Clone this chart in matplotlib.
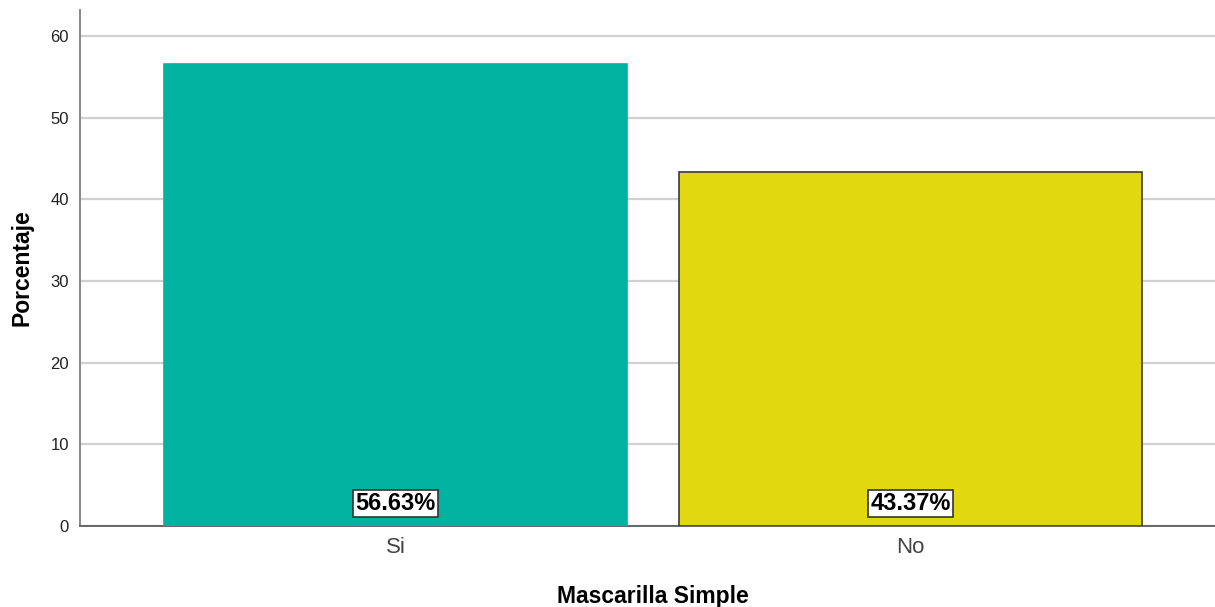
import matplotlib
matplotlib.use("Agg")
import matplotlib.pyplot as plt
import numpy as np

categories = ["Si", "No"]
percentages = [56.63, 43.37]
bar_colors = ["#00B3A0", "#E2D810"]
edge_colors = ["#00B3A0", "#3a3a3a"]
y_ticks = [0, 10, 20, 30, 40, 50, 60]

FONT = "Liberation Sans"

fig = plt.figure(figsize=(12.15, 6.07), dpi=100)
ax = fig.add_axes([0.0658, 0.1334, 0.9342, 0.8501])

x = np.arange(len(categories))
ax.bar(x, percentages, width=0.9, color=bar_colors, edgecolor=edge_colors,
       linewidth=1.2, zorder=3)

for xi, val in zip(x, percentages):
    ax.text(xi, 2.8, f"{val:.2f}%", ha="center", va="center", fontsize=17,
            fontweight="bold", family=FONT, zorder=4,
            bbox={"facecolor": "white", "edgecolor": "#333333", "pad": 1.5,
                  "linewidth": 1.2})

ax.set_xlim(-0.613, 1.591)
ax.set_ylim(0, 63.2)
ax.set_yticks(y_ticks)
ax.set_xticks(x)
ax.set_xticklabels(categories, fontsize=16, color="#444444", family=FONT)
for lbl in ax.get_yticklabels():
    lbl.set_fontsize(12)
    lbl.set_family(FONT)
    lbl.set_color("#222222")
ax.tick_params(axis="y", length=0, pad=8)
ax.tick_params(axis="x", length=0, pad=8)
ax.yaxis.grid(True, color="#d0d0d0", linewidth=1.6, zorder=0)

for side in ("top", "right"):
    ax.spines[side].set_visible(False)
ax.spines["left"].set_color("#888888")
ax.spines["left"].set_linewidth(1.4)
ax.spines["bottom"].set_color("#666666")
ax.spines["bottom"].set_linewidth(1.4)

ax.set_ylabel("Porcentaje", fontsize=16.5, fontweight="bold", family=FONT)
ax.set_xlabel("Mascarilla Simple", fontsize=16.5, fontweight="bold", family=FONT)
ax.yaxis.set_label_coords(-0.051, 0.5)
ax.yaxis.label.set_va("center")
ax.xaxis.set_label_coords(0.505, -0.136)
ax.xaxis.label.set_va("center")

fig.savefig("out.png", dpi=100)
